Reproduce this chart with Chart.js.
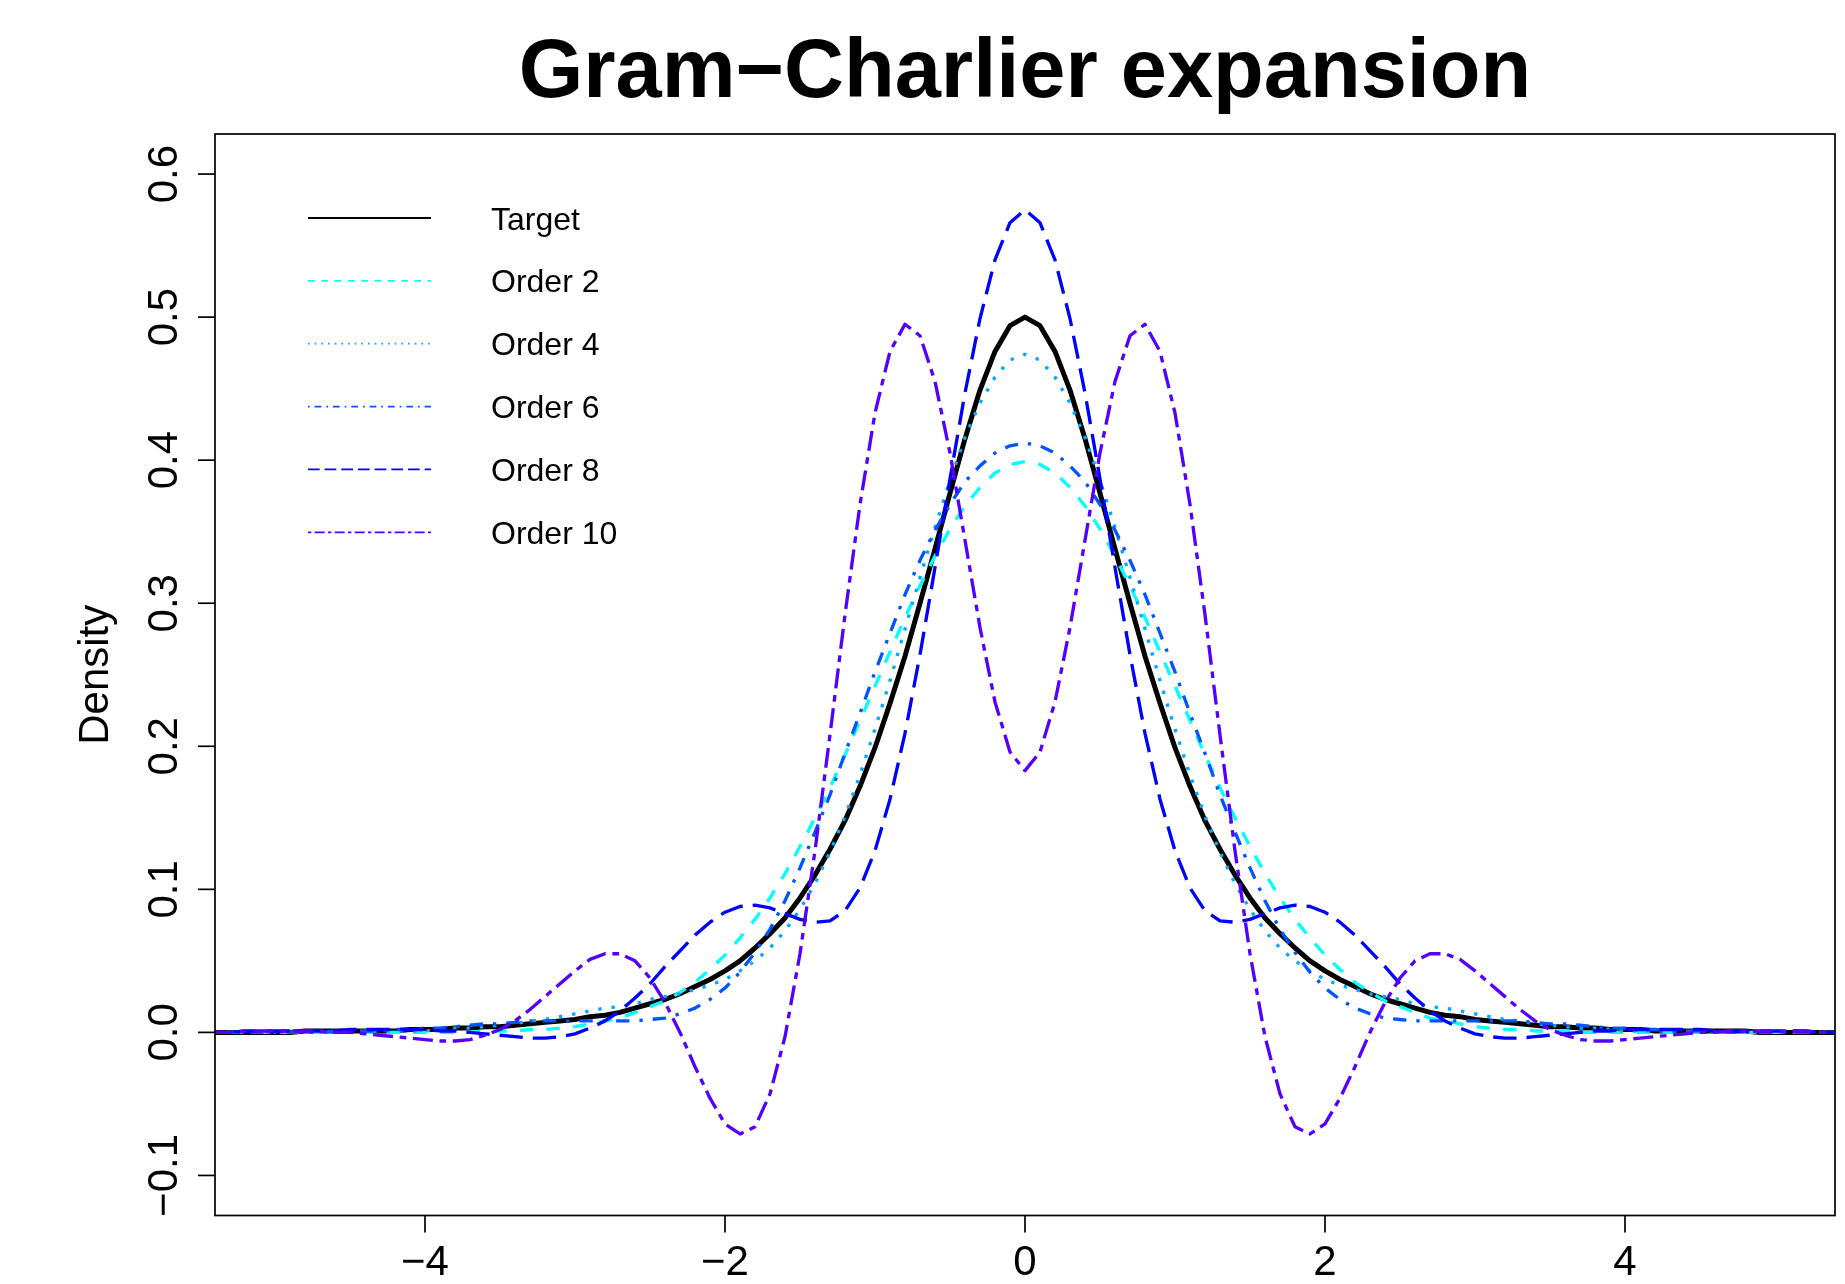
<!DOCTYPE html>
<html>
<head>
<meta charset="utf-8">
<title>Gram-Charlier expansion</title>
<script src="https://cdn.jsdelivr.net/npm/chart.js@4.4.1/dist/chart.umd.min.js"></script>
<style>
    body { margin: 0; background: #ffffff; }
    canvas { display: block; }
</style>
</head>
<body>
<canvas id="gc_chart" width="1845" height="1284"></canvas>
<script>
var xs = [
    -5.5, -5.4, -5.3, -5.2, -5.1,
    -5.0, -4.9, -4.8, -4.7, -4.6, -4.5, -4.4, -4.3, -4.2, -4.1,
    -4.0, -3.9, -3.8, -3.7, -3.6, -3.5, -3.4, -3.3, -3.2, -3.1,
    -3.0, -2.9, -2.8, -2.7, -2.6, -2.5, -2.4, -2.3, -2.2, -2.1,
    -2.0, -1.9, -1.8, -1.7, -1.6, -1.5, -1.4, -1.3, -1.2, -1.1,
    -1.0, -0.9, -0.8, -0.7, -0.6, -0.5, -0.4, -0.3, -0.2, -0.1,
    0.0, 0.1, 0.2, 0.3, 0.4, 0.5, 0.6, 0.7, 0.8, 0.9,
    1.0, 1.1, 1.2, 1.3, 1.4, 1.5, 1.6, 1.7, 1.8, 1.9,
    2.0, 2.1, 2.2, 2.3, 2.4, 2.5, 2.6, 2.7, 2.8, 2.9,
    3.0, 3.1, 3.2, 3.3, 3.4, 3.5, 3.6, 3.7, 3.8, 3.9,
    4.0, 4.1, 4.2, 4.3, 4.4, 4.5, 4.6, 4.7, 4.8, 4.9, 5.0,
    5.1, 5.2, 5.3, 5.4, 5.5
];

var target = [
    0.000, 0.000, 0.000, 0.000, 0.000,
    0.000, 0.000, 0.001, 0.001, 0.001, 0.001, 0.001, 0.001, 0.001, 0.002, 0.002, 0.002, 0.003, 0.003, 0.004, 0.004, 0.005,
    0.006, 0.007, 0.008, 0.009, 0.011, 0.012, 0.014, 0.017, 0.020, 0.023, 0.027, 0.032, 0.037, 0.043, 0.050, 0.059, 0.069,
    0.080, 0.094, 0.110, 0.128, 0.148, 0.172, 0.199, 0.230, 0.263, 0.300, 0.338, 0.377, 0.415, 0.449, 0.476, 0.494,
    0.500, 0.494, 0.476, 0.449, 0.415, 0.377, 0.338, 0.300, 0.263, 0.230, 0.199, 0.172, 0.148, 0.128, 0.110, 0.094, 0.080,
    0.069, 0.059, 0.050, 0.043, 0.037, 0.032, 0.027, 0.023, 0.020, 0.017, 0.014, 0.012, 0.011, 0.009, 0.008, 0.007, 0.006,
    0.005, 0.004, 0.004, 0.003, 0.003, 0.002, 0.002, 0.002, 0.001, 0.001, 0.001, 0.001, 0.001, 0.001, 0.001, 0.000, 0.000,
    0.000, 0.000, 0.000, 0.000, 0.000
];

var order2 = [
    0.000, 0.000, 0.000, 0.000, 0.000,
    0.000, 0.000, 0.000, 0.000, 0.000, 0.000, 0.000, 0.000, 0.000, 0.000, 0.000, 0.000, 0.000, 0.000, 0.001, 0.001, 0.001,
    0.002, 0.002, 0.003, 0.004, 0.006, 0.008, 0.010, 0.014, 0.018, 0.022, 0.028, 0.035, 0.044, 0.054, 0.066, 0.079, 0.094,
    0.111, 0.130, 0.150, 0.171, 0.194, 0.218, 0.242, 0.266, 0.290, 0.312, 0.333, 0.352, 0.368, 0.381, 0.391, 0.397,
    0.399, 0.397, 0.391, 0.381, 0.368, 0.352, 0.333, 0.312, 0.290, 0.266, 0.242, 0.218, 0.194, 0.171, 0.150, 0.130, 0.111,
    0.094, 0.079, 0.066, 0.054, 0.044, 0.035, 0.028, 0.022, 0.018, 0.014, 0.010, 0.008, 0.006, 0.004, 0.003, 0.002, 0.002,
    0.001, 0.001, 0.001, 0.000, 0.000, 0.000, 0.000, 0.000, 0.000, 0.000, 0.000, 0.000, 0.000, 0.000, 0.000, 0.000, 0.000,
    0.000, 0.000, 0.000, 0.000, 0.000
];

var order4 = [
    0.000, 0.000, 0.000, 0.000, 0.000,
    0.000, 0.000, 0.000, 0.000, 0.000, 0.000, 0.000, 0.001, 0.001, 0.001, 0.001, 0.002, 0.003, 0.003, 0.004, 0.005, 0.006,
    0.008, 0.009, 0.011, 0.013, 0.015, 0.017, 0.018, 0.020, 0.023, 0.025, 0.027, 0.030, 0.033, 0.037, 0.043, 0.050, 0.059,
    0.071, 0.086, 0.104, 0.126, 0.151, 0.180, 0.212, 0.246, 0.282, 0.318, 0.353, 0.386, 0.416, 0.440, 0.458, 0.470,
    0.474, 0.470, 0.458, 0.440, 0.416, 0.386, 0.353, 0.318, 0.282, 0.246, 0.212, 0.180, 0.151, 0.126, 0.104, 0.086, 0.071,
    0.059, 0.050, 0.043, 0.037, 0.033, 0.030, 0.027, 0.025, 0.023, 0.020, 0.018, 0.017, 0.015, 0.013, 0.011, 0.009, 0.008,
    0.006, 0.005, 0.004, 0.003, 0.003, 0.002, 0.001, 0.001, 0.001, 0.001, 0.000, 0.000, 0.000, 0.000, 0.000, 0.000, 0.000,
    0.000, 0.000, 0.000, 0.000, 0.000
];

var order6 = [
    0.000, 0.000, 0.000, 0.000, 0.000,
    0.000, 0.000, 0.000, 0.000, 0.001, 0.001, 0.001, 0.001, 0.002, 0.002, 0.003, 0.003, 0.004, 0.005, 0.006, 0.006, 0.007,
    0.008, 0.008, 0.008, 0.008, 0.008, 0.008, 0.008, 0.008, 0.009, 0.010, 0.013, 0.017, 0.023, 0.031, 0.042, 0.056, 0.072,
    0.092, 0.115, 0.140, 0.166, 0.195, 0.223, 0.252, 0.279, 0.306, 0.330, 0.351, 0.369, 0.385, 0.396, 0.405, 0.410,
    0.412, 0.410, 0.405, 0.396, 0.385, 0.369, 0.351, 0.330, 0.306, 0.279, 0.252, 0.223, 0.195, 0.166, 0.140, 0.115, 0.092,
    0.072, 0.056, 0.042, 0.031, 0.023, 0.017, 0.013, 0.010, 0.009, 0.008, 0.008, 0.008, 0.008, 0.008, 0.008, 0.008, 0.008,
    0.007, 0.006, 0.006, 0.005, 0.004, 0.003, 0.003, 0.002, 0.002, 0.001, 0.001, 0.001, 0.001, 0.000, 0.000, 0.000, 0.000,
    0.000, 0.000, 0.000, 0.000, 0.000
];

var order8 = [
    0.000, 0.000, 0.000, 0.001, 0.001,
    0.001, 0.001, 0.001, 0.001, 0.001, 0.002, 0.002, 0.002, 0.002, 0.002, 0.002, 0.001, 0.001, 0.000, -0.001, -0.002, -0.003,
    -0.004, -0.004, -0.003, -0.001, 0.003, 0.008, 0.015, 0.024, 0.034, 0.046, 0.057, 0.068, 0.077, 0.084, 0.088, 0.089, 0.087,
    0.083, 0.079, 0.077, 0.078, 0.085, 0.101, 0.127, 0.163, 0.209, 0.264, 0.325, 0.387, 0.447, 0.499, 0.540, 0.566,
    0.575, 0.566, 0.540, 0.499, 0.447, 0.387, 0.325, 0.264, 0.209, 0.163, 0.127, 0.101, 0.085, 0.078, 0.077, 0.079, 0.083,
    0.087, 0.089, 0.088, 0.084, 0.077, 0.068, 0.057, 0.046, 0.034, 0.024, 0.015, 0.008, 0.003, -0.001, -0.003, -0.004, -0.004,
    -0.003, -0.002, -0.001, 0.000, 0.001, 0.001, 0.002, 0.002, 0.002, 0.002, 0.002, 0.002, 0.001, 0.001, 0.001, 0.001, 0.001,
    0.001, 0.001, 0.000, 0.000, 0.000
];

var order10 = [
    0.000, 0.000, 0.000, 0.001, 0.001,
    0.001, 0.001, 0.001, 0.001, 0.000, 0.000, -0.001, -0.002, -0.003, -0.004, -0.005, -0.006, -0.006, -0.005, -0.002, 0.002, 0.008,
    0.016, 0.025, 0.034, 0.043, 0.051, 0.055, 0.055, 0.050, 0.038, 0.021, 0.000, -0.024, -0.046, -0.064, -0.071, -0.066, -0.043,
    -0.003, 0.055, 0.127, 0.208, 0.292, 0.369, 0.433, 0.476, 0.495, 0.487, 0.455, 0.405, 0.344, 0.283, 0.231, 0.196,
    0.183, 0.196, 0.231, 0.283, 0.344, 0.405, 0.455, 0.487, 0.495, 0.476, 0.433, 0.369, 0.292, 0.208, 0.127, 0.055, -0.003,
    -0.043, -0.066, -0.071, -0.064, -0.046, -0.024, 0.000, 0.021, 0.038, 0.050, 0.055, 0.055, 0.051, 0.043, 0.034, 0.025, 0.016,
    0.008, 0.002, -0.002, -0.005, -0.006, -0.006, -0.005, -0.004, -0.003, -0.002, -0.001, 0.000, 0.000, 0.001, 0.001, 0.001, 0.001,
    0.001, 0.001, 0.000, 0.000, 0.000
];

var seriesNames = ["Target", "Order 2", "Order 4", "Order 6", "Order 8", "Order 10"];
var xTicks = [-4, -2, 0, 2, 4];
var xTickLabels = ["\u22124", "\u22122", "0", "2", "4"];
var yTicks = [-0.1, 0.0, 0.1, 0.2, 0.3, 0.4, 0.5, 0.6];
var yTickLabels = ["\u22120.1", "0.0", "0.1", "0.2", "0.3", "0.4", "0.5", "0.6"];

// R style: colours, lty patterns (in lwd units) and lwd
var colors = ["#000000", "#00FFFF", "#00AAFF", "#0055FF", "#0000FF", "#5500FF"];
var dashes = [[], [4, 4], [1, 3], [1, 3, 4, 3], [7, 3], [2, 2, 6, 2]];
var widths = [3, 2, 2, 2, 2, 2];
var lwdPx = 5 / 3;
var fontName = "'Liberation Sans', Arial, Helvetica, sans-serif";

function points(ys) {
    return xs.map(function (x, i) { return { x: x, y: ys[i] }; });
}

function dashPx(pattern, lwd) {
    return pattern.map(function (v) { return v * lwd * lwdPx; });
}

var rAxes = {
    id: "rAxes",
    afterDraw: function (chart) {
        var ctx = chart.ctx, a = chart.chartArea;
        var sx = chart.scales.x, sy = chart.scales.y;
        ctx.save();
        ctx.strokeStyle = "#000000";
        ctx.fillStyle = "#000000";
        ctx.lineWidth = 1.7;
        ctx.strokeRect(a.left, a.top, a.right - a.left, a.bottom - a.top);

        ctx.font = "42px " + fontName;
        ctx.textAlign = "center";
        ctx.textBaseline = "alphabetic";
        xTicks.forEach(function (v, i) {
            var px = sx.getPixelForValue(v);
            ctx.beginPath();
            ctx.moveTo(px, a.bottom);
            ctx.lineTo(px, a.bottom + 17);
            ctx.stroke();
            ctx.fillText(xTickLabels[i], px, 1275);
        });
        yTicks.forEach(function (v, i) {
            var py = sy.getPixelForValue(v);
            ctx.beginPath();
            ctx.moveTo(a.left, py);
            ctx.lineTo(a.left - 17, py);
            ctx.stroke();
            ctx.save();
            ctx.translate(177, py);
            ctx.rotate(-Math.PI / 2);
            ctx.fillText(yTickLabels[i], 0, 0);
            ctx.restore();
        });

        ctx.save();
        ctx.translate(108, (a.top + a.bottom) / 2);
        ctx.rotate(-Math.PI / 2);
        ctx.fillText("Density", 0, 0);
        ctx.restore();

        ctx.font = "bold 83px " + fontName;
        ctx.fillText("Gram\u2212Charlier expansion", (a.left + a.right) / 2, 97);

        // legend, top left inside the box
        ctx.font = "32px " + fontName;
        ctx.textAlign = "left";
        seriesNames.forEach(function (name, i) {
            var y = 218 + i * 62.86;
            ctx.strokeStyle = colors[i];
            ctx.lineWidth = 1.8;
            ctx.setLineDash(dashPx(dashes[i], 1));
            ctx.beginPath();
            ctx.moveTo(308, y);
            ctx.lineTo(431, y);
            ctx.stroke();
            ctx.setLineDash([]);
            ctx.fillText(name, 491, y + 11.5);
        });
        ctx.restore();
    }
};

function getChartConfig() {
    var all = [target, order2, order4, order6, order8, order10];
    var datasets = all.map(function (ys, i) {
        return {
            label: seriesNames[i],
            data: points(ys),
            borderColor: colors[i],
            borderWidth: widths[i] * lwdPx,
            borderDash: dashPx(dashes[i], widths[i]),
            borderJoinStyle: "round",
            borderCapStyle: "butt",
            pointRadius: 0,
            fill: false,
            tension: 0,
            clip: 0,
            order: all.length - i
        };
    });
    return {
        type: "line",
        data: { datasets: datasets },
        options: {
            responsive: false,
            animation: false,
            events: [],
            layout: { padding: { left: 215, top: 134, right: 10, bottom: 68.5 } },
            plugins: { legend: { display: false }, tooltip: { enabled: false }, title: { display: false } },
            scales: {
                x: { type: "linear", min: -5.4, max: 5.4, display: false },
                y: { type: "linear", min: -0.128, max: 0.628, display: false }
            }
        },
        plugins: [rAxes]
    };
}

new Chart(document.getElementById("gc_chart").getContext("2d"), getChartConfig());
</script>
</body>
</html>
